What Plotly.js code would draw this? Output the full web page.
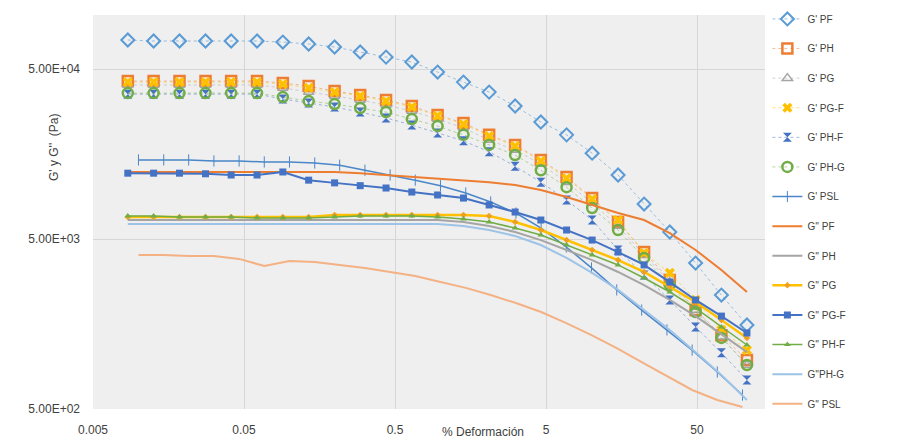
<!DOCTYPE html>
<html>
<head>
<meta charset="utf-8">
<script src="https://cdn.plot.ly/plotly-3.0.1.min.js"></script>
<style>
html,body{margin:0;padding:0;background:#fff;}
#chart{width:906px;height:443px;}
</style>
</head>
<body>
<div id="chart"></div>
<script>
// % strain (x) for the sample series and for the PSL series
const xMain = [0.0085, 0.0126, 0.0187, 0.0278, 0.0411, 0.061, 0.0904, 0.134, 0.199, 0.294, 0.436, 0.646, 0.957, 1.42, 2.1, 3.12, 4.62, 6.84, 10.1, 15.0, 22.3, 33.0, 48.9, 72.5, 107];
const xPSL = [0.01, 0.0147, 0.0215, 0.0316, 0.0464, 0.0681, 0.1, 0.147, 0.215, 0.316, 0.464, 0.681, 1, 1.47, 2.15, 3.16, 4.64, 6.81, 10, 14.7, 21.5, 31.6, 46.4, 68.1, 100];

// G' (Pa)
const gpPF  = [74100, 73100, 73100, 73100, 73100, 73100, 72100, 70200, 67400, 63000, 58800, 55000, 48000, 41900, 36600, 30300, 24400, 20500, 16000, 11900, 8030, 5500, 3610, 2340, 1560];
const gpPH  = [42500, 42500, 42500, 42500, 42500, 42500, 41400, 39700, 37100, 35200, 32900, 30300, 26800, 24100, 20500, 17900, 14600, 11600, 8710, 6300, 4190, 2870, 1910, 1360, 971];
const gpPG  = [40300, 40300, 40300, 40300, 40300, 40300, 38700, 36600, 34700, 32900, 30700, 28300, 25400, 22500, 19100, 16700, 13800, 10800, 8140, 5960, 4030, 2790, 1910, 1330, 908];
const gpPGF = [41900, 41900, 41900, 41900, 41900, 41900, 40800, 38700, 36600, 34700, 32400, 29900, 26500, 23700, 20200, 17600, 14400, 11400, 8600, 6470, 4140, 3160, 2190, 1460, 1110];
const gpPHF = [35600, 35600, 35600, 35600, 35600, 35600, 33300, 31600, 29900, 27900, 25800, 23400, 21000, 18900, 16300, 13400, 10800, 8480, 6470, 4310, 3070, 2190, 1520, 1070, 741];
const gpPHG = [36100, 36100, 36100, 36100, 36100, 36100, 34200, 32400, 31100, 29500, 27900, 25400, 23100, 20500, 17900, 15600, 12700, 10100, 7610, 5650, 3870, 2680, 1860, 1310, 908];
const gpPSL = [14600, 14600, 14600, 14400, 14400, 14200, 14200, 14000, 13600, 12700, 11900, 11100, 10300, 9330, 8250, 7110, 5800, 4490, 3380, 2510, 1910, 1460, 1110, 825, 604];

// G'' (Pa)
const gppPF  = [12400, 12400, 12400, 12400, 12400, 12400, 12400, 12400, 12400, 12200, 11900, 11600, 11400, 11100, 10800, 10400, 9710, 8830, 7930, 7110, 6470, 5420, 4310, 3290, 2440];
const gppPH  = [6470, 6470, 6470, 6470, 6470, 6470, 6470, 6470, 6470, 6470, 6470, 6470, 6470, 6300, 5960, 5500, 4930, 4310, 3760, 3200, 2680, 2190, 1760, 1380, 1080];
const gppPG  = [6740, 6740, 6740, 6740, 6740, 6740, 6740, 6740, 6920, 6920, 6920, 6920, 6920, 6920, 6830, 6300, 5650, 4930, 4310, 3760, 3200, 2610, 2130, 1670, 1310];
const gppPGF = [12200, 12200, 12200, 12100, 11900, 11900, 12400, 11100, 10700, 10300, 9980, 9450, 9080, 8710, 7930, 7210, 6470, 5650, 4930, 4190, 3520, 2790, 2190, 1760, 1400];
const gppPHF = [6830, 6830, 6740, 6740, 6740, 6650, 6650, 6650, 6740, 6830, 6830, 6830, 6740, 6560, 6300, 5800, 5280, 4610, 4030, 3520, 2950, 2440, 1960, 1520, 1190];
const gppPHG = [6130, 6130, 6130, 6130, 6130, 6130, 6130, 6130, 6130, 6130, 6130, 6130, 6130, 5960, 5650, 5210, 4610, 3870, 3160, 2510, 1910, 1460, 1080, 792, 565];
const gppPSL = [4030, 4030, 3970, 3970, 3820, 3470, 3710, 3660, 3520, 3380, 3200, 3030, 2790, 2580, 2340, 2100, 1860, 1600, 1360, 1140, 945, 782, 647, 565, 514];

const names = ["G' PF", "G' PH", "G' PG", "G' PG-F", "G' PH-F", "G' PH-G", "G' PSL",
               "G'' PF", "G'' PH", "G'' PG", "G'' PG-F", "G'' PH-F", "G''PH-G", "G'' PSL"];
const xTicks = [0.005, 0.05, 0.5, 5, 50];
const xTickText = ["0.005", "0.05", "0.5", "5", "50"];
const yTicks = [500, 5000, 50000];
const yTickText = ["5.00E+02", "5.00E+03", "5.00E+04"];

function mk(name, x, y, opt) {
  return Object.assign({type: 'scatter', name: name, x: x, y: y, legendgroup: name}, opt);
}
const thin = c => ({color: c, width: 1, dash: 'dot'});

const traces = [
  mk(names[0], xMain, gpPF,  {mode: 'lines+markers', line: thin('rgba(91,155,213,0.6)'),
     marker: {symbol: 'diamond-open', size: 10, color: '#5B9BD5', line: {width: 2}}}),
  mk(names[1], xMain, gpPH,  {mode: 'lines+markers', line: thin('rgba(237,125,49,0.5)'),
     marker: {symbol: 'square-open', size: 10, color: '#ED7D31', line: {width: 2.5}}}),
  mk(names[2], xMain, gpPG,  {mode: 'lines+markers', line: thin('rgba(165,165,165,0.5)'),
     marker: {symbol: 'triangle-up-open', size: 9, color: '#A5A5A5', line: {width: 1.5}}}),
  mk(names[3], xMain, gpPGF, {mode: 'lines+markers', line: thin('rgba(255,192,0,0.5)'),
     marker: {symbol: 'x', size: 9, color: '#FFC000', line: {width: 0}}}),
  mk(names[4], xMain, gpPHF, {mode: 'lines+markers', line: thin('rgba(68,114,196,0.5)'),
     marker: {symbol: 'hourglass', size: 9, color: '#4472C4', line: {width: 0}}}),
  mk(names[5], xMain, gpPHG, {mode: 'lines+markers', line: thin('rgba(112,173,71,0.5)'),
     marker: {symbol: 'circle-open', size: 10, color: '#70AD47', line: {width: 2.5}}}),
  mk(names[6], xPSL, gpPSL,  {mode: 'lines+markers', line: {color: '#4A86C8', width: 1.5},
     marker: {symbol: 'line-ns-open', size: 8, color: '#4A86C8', line: {width: 1}}}),
  mk(names[7], xMain, gppPF,  {mode: 'lines', line: {color: '#ED7D31', width: 2}}),
  mk(names[8], xMain, gppPH,  {mode: 'lines', line: {color: '#A5A5A5', width: 2}}),
  mk(names[9], xMain, gppPG,  {mode: 'lines+markers', line: {color: '#FFC000', width: 2.5},
     marker: {symbol: 'diamond', size: 5, color: '#F0A020'}}),
  mk(names[10], xMain, gppPGF, {mode: 'lines+markers', line: {color: '#4472C4', width: 2},
     marker: {symbol: 'square', size: 7, color: '#4472C4'}}),
  mk(names[11], xMain, gppPHF, {mode: 'lines+markers', line: {color: '#70AD47', width: 1.5},
     marker: {symbol: 'triangle-up', size: 6, color: '#70AD47'}}),
  mk(names[12], xMain, gppPHG, {mode: 'lines', line: {color: '#9DC3E6', width: 2}}),
  mk(names[13], xPSL, gppPSL,  {mode: 'lines', line: {color: '#F4B183', width: 2}})
];

const fam = 'Liberation Sans, Arial, sans-serif';
const font = {family: fam, size: 12, color: '#404040'};

const layout = {
  width: 906, height: 443,
  margin: {l: 93, r: 141, t: 15, b: 34},
  paper_bgcolor: '#ffffff',
  plot_bgcolor: '#efefef',
  font: font,
  showlegend: true,
  legend: {
    xref: 'container', yref: 'container',
    x: 0.847, xanchor: 'left', y: 0.99, yanchor: 'top',
    traceorder: 'grouped', tracegroupgap: 10.6,
    maxheight: 443,
    font: {family: fam, size: 10, color: '#404040'},
    bgcolor: 'rgba(0,0,0,0)', itemwidth: 30
  },
  xaxis: {
    type: 'log', range: [Math.log10(0.005), 2.149],
    tickvals: xTicks, ticktext: xTickText,
    showgrid: true, gridcolor: '#d6d6d6', gridwidth: 1,
    zeroline: false, showline: false, ticks: '',
    ticklabelstandoff: 12,
    tickfont: {family: fam, size: 12, color: '#404040'}
  },
  yaxis: {
    type: 'log', range: [Math.log10(500), 5.017],
    tickvals: yTicks, ticktext: yTickText,
    showgrid: true, gridcolor: '#d6d6d6', gridwidth: 1,
    zeroline: false, showline: false, ticks: '',
    ticklabelstandoff: 12,
    tickfont: {family: fam, size: 12, color: '#404040'}
  },
  annotations: [
    {text: "% Deformación", xref: 'paper', yref: 'paper', x: 0.58, y: -0.058,
     xanchor: 'center', yanchor: 'middle', showarrow: false,
     font: {family: fam, size: 12, color: '#404040'}},
    {text: "G' y G''  (Pa)", xref: 'paper', yref: 'paper', x: -0.058, y: 0.665,
     xanchor: 'center', yanchor: 'middle', textangle: -90, showarrow: false,
     font: {family: fam, size: 12, color: '#404040'}}
  ]
};

Plotly.newPlot('chart', traces, layout, {displayModeBar: false, staticPlot: true});
</script>
</body>
</html>
